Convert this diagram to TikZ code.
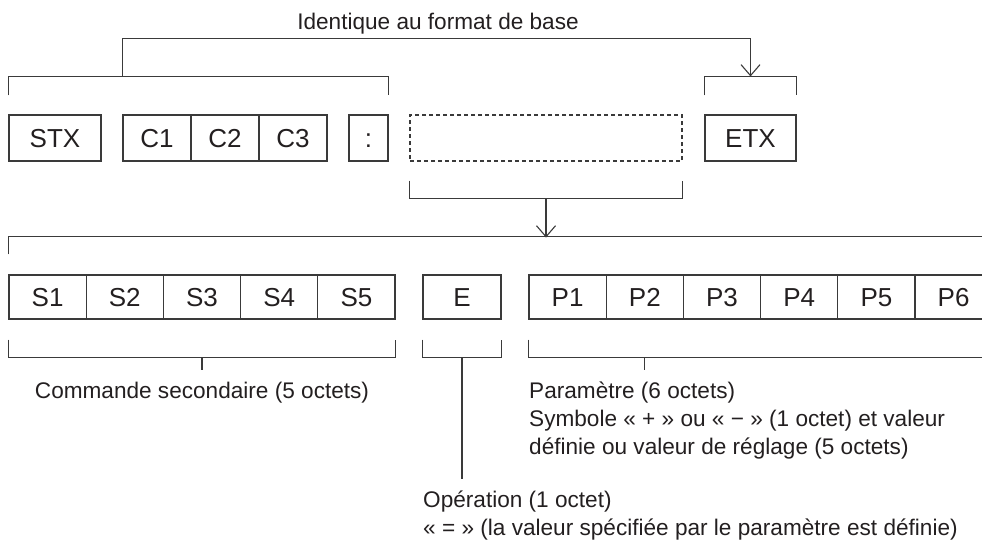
\documentclass[tikz,border=0pt]{standalone}
\usepackage{fontspec}
\setmainfont{Liberation Sans}
\usetikzlibrary{arrows.meta}
\definecolor{inkgray}{HTML}{231F20}
\definecolor{linegray}{HTML}{3A3A3A}
\tikzset{
  cell/.style={draw=linegray,line width=1.1pt,minimum height=46pt,inner sep=0pt,
    text height=18.6pt,text depth=0pt,text=inkgray,font=\fontsize{26}{30}\selectfont},
  brk/.style={draw=linegray,line width=1.1pt},
  note/.style={inner sep=0pt,text=inkgray,align=left,font=\fontsize{22.6}{28}\selectfont},
  barb/.style={-{Straight Barb[length=11pt,width=19pt,line width=1.1pt]}}
}
\begin{document}
\begin{tikzpicture}[x=1pt,y=-1pt,line join=miter]
	\clip (0,0) rectangle (982,539);
	% upper frame
	\node[cell,minimum width=92pt] (stx) at (55,138) {STX};
	\foreach \i/\cx in {1/157,2/225,3/293}
		\node[cell,minimum width=68pt] (c\i) at (\cx,138) {C\i};
	\node[cell,minimum width=39pt] (colon) at (368.5,138) {:};
	\node[cell,dash pattern=on 4pt off 3pt,minimum width=272pt] (data) at (546,138) {};
	\node[cell,minimum width=91pt] (etx) at (750.5,138) {ETX};
	\draw[brk] ([yshift=19pt]stx.north west) |- ([yshift=38pt]colon.north east) -- ([yshift=19pt]colon.north east);
	\draw[brk] ([yshift=19pt]etx.north west) |- ([yshift=38pt]etx.north east) -- ([yshift=19pt]etx.north east);
	\draw[brk,barb] ([yshift=38pt]c1.north west) |- ([yshift=76pt]etx.north) -- ([yshift=38pt]etx.north);
	\node[note,anchor=base] (same) at (438,29) {Identique au format de base};
	\draw[brk] ([yshift=-19pt]data.south west) |- ([yshift=-37pt]data.south east) -- ([yshift=-19pt]data.south east);
	\draw[brk,barb] ([yshift=-37pt]data.south) -- ([yshift=-76pt]data.south);
	% data part
	\foreach \i in {1,...,5}
		\node[cell,minimum width=77.2pt,minimum height=44pt] (s\i) at ({9+77.2*(\i-0.5)},297) {S\i};
	\node[cell,minimum width=78pt,minimum height=44pt] (e) at (462,297) {E};
	\foreach \i in {1,...,6}
		\node[cell,minimum width=77.2pt,minimum height=44pt] (p\i) at ({529+77.2*(\i-0.5)},297) {P\i};
	\draw[brk] ([yshift=20pt]s1.north west) |- ([yshift=38pt]p6.north east);
	\draw[brk] ([yshift=-20pt]s1.south west) |- ([yshift=-38pt]s5.south east) -- ([yshift=-20pt]s5.south east);
	\draw[brk] ([yshift=-20pt]e.south west) |- ([yshift=-38pt]e.south east) -- ([yshift=-20pt]e.south east);
	\draw[brk] ([yshift=-20pt]p1.south west) |- ([yshift=-38pt]p6.south east);
	\draw[brk] ([yshift=-38pt]s3.south) -- ++(0,12);
	\draw[brk] ([yshift=-38pt]e.south) -- ++(0,121);
	\draw[brk] ([yshift=-38pt]p2.south) -- ++(0,12);
	% labels (base of the last line)
	\node[note,anchor=base] (subcmd) at (202,398) {Commande secondaire (5 octets)};
	\node[note,anchor=base west] (param) at (529,454) {Paramètre (6 octets)\\Symbole « + » ou « − » (1 octet) et valeur\\définie ou valeur de réglage (5 octets)};
	\node[note,anchor=base west] (oper) at (423,535) {Opération (1 octet)\\« = » (la valeur spécifiée par le paramètre est définie)};
\end{tikzpicture}
\end{document}
